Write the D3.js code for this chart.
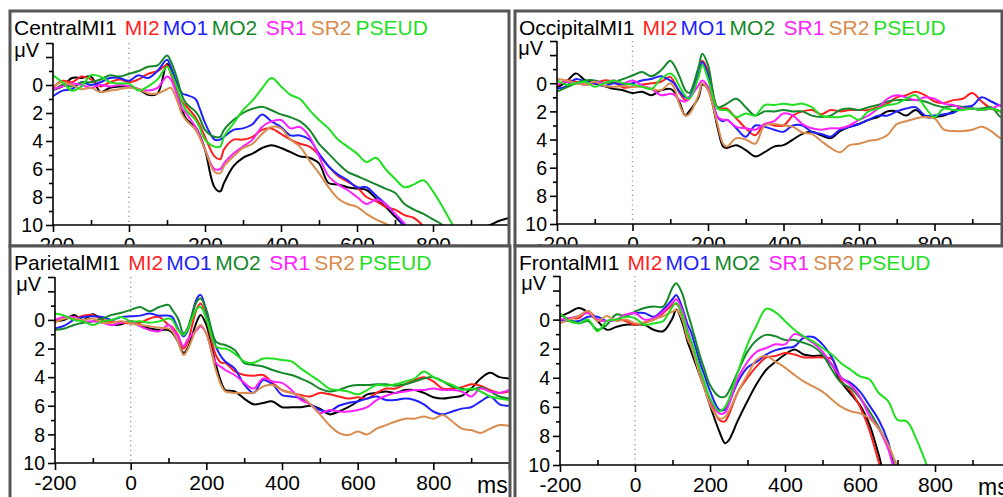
<!DOCTYPE html>
<html>
<head>
<meta charset="utf-8">
<script src="https://cdn.jsdelivr.net/npm/d3@7"></script>
<style>
  body { margin: 0; background: #fff; }
  svg { display: block; }
  text { font-family: "Liberation Sans", Arial, sans-serif; }
</style>
</head>
<body>
<div id="chart"></div>
<script>
// sample times (ms) shared by every trace
const times = [-200, -175, -150, -125, -100, -75, -50, -25, 0,
  25, 50, 75, 100, 110, 125, 140, 150, 175, 185, 200, 225, 240, 250,
  275, 300, 325, 350, 375, 400, 425, 450, 475, 500,
  525, 550, 575, 600, 625, 650, 675, 700, 725, 750,
  775, 800, 825, 850, 875, 900, 925, 950, 975, 1000];

const conditions = ["MI1", "MI2", "MO1", "MO2", "SR1", "SR2", "PSEUD"];
const colors = ["#000000", "#ff1f1f", "#1f1fff", "#15882a", "#ff1fff", "#d98c4f", "#1fe01f"];
const regions = ["Central", "Occipital", "Parietal", "Frontal"];
const xTicks = [-200, -100, 0, 100, 200, 300, 400, 500, 600, 700, 800, 900, 1000];
const yTicks = [-3, -2, -1, 0, 1, 2, 3, 4, 5, 6, 7, 8, 9, 10];

// Central (µV, positive drawn downwards; 12 = off the bottom)
const central_MI1 = [0.35, 0.1, -0.5, -0.5, -0.6, 0.5, 0.2, 0.1, 0.1,
  0.3, 0.7, 0.6, -1.5, -1.2, 0.4, 1.8, 2.4, 3.0, 3.5, 4.6, 7.3, 7.6, 7.0,
  5.8, 5.2, 4.9, 4.5, 4.3, 4.5, 4.8, 5.1, 5.2, 5.6,
  7.0, 7.1, 7.3, 7.4, 7.5, 8.1, 8.7, 9.4, 10.1, 11,
  12, 12, 12, 12, 12, 11.5, 10.3, 10.0, 9.7, 9.5];
const central_MI2 = [0.2, -0.3, -0.2, -0.6, -0.4, 0.1, -0.2, -0.4, -0.2,
  -0.4, -0.8, -1.0, -1.4, -0.8, 0.3, 1.2, 1.5, 2.3, 2.8, 3.7, 5.1, 5.3, 4.6,
  3.9, 3.9, 3.7, 3.2, 3.1, 3.5, 3.9, 4.2, 4.4, 5.0,
  5.8, 6.5, 6.9, 7.3, 8.0, 8.3, 8.7, 8.9, 9.3, 9.5,
  10.1, 11, 12, 12, 12, 12, 12, 12, 12, 12];
const central_MO1 = [0.8, 0.4, 0.3, -0.2, 0.0, -0.2, -0.5, -0.5, -0.3,
  -0.7, -0.5, -1.0, -1.8, -1.3, -0.2, 0.6, 0.7, 1.0, 1.6, 2.7, 3.9, 3.9, 3.7,
  3.2, 3.1, 2.8, 2.1, 2.6, 3.0, 3.6, 3.6, 3.9, 4.9,
  5.8, 6.4, 6.8, 7.3, 7.3, 7.9, 8.5, 9.2, 10.1, 11,
  12, 12, 12, 12, 12, 12, 12, 12, 12, 12];
const central_MO2 = [0.4, 0.0, 0.1, -0.2, -0.2, -0.4, -0.7, -0.6, -0.8,
  -1.0, -1.3, -1.4, -2.1, -1.7, -0.6, 0.8, 1.3, 1.9, 2.3, 3.2, 3.7, 3.7, 3.2,
  2.5, 2.0, 1.7, 1.55, 1.8, 2.1, 2.3, 2.6, 3.2, 4.2,
  4.9, 5.6, 6.2, 6.5, 6.8, 7.1, 7.4, 7.7, 8.5, 8.9,
  9.2, 9.6, 10.0, 11, 12, 12, 12, 12, 12, 12];
const central_SR1 = [0.3, 0.1, -0.1, 0.0, 0.2, 0.0, 0.1, 0.0, 0.1,
  0.3, 0.4, 0.2, -0.6, -0.4, 0.6, 1.7, 2.0, 3.0, 3.5, 4.6, 6.0, 6.0, 5.6,
  4.9, 4.4, 3.9, 3.0, 2.6, 2.5, 3.1, 3.0, 3.7, 5.1,
  6.5, 7.1, 7.5, 8.0, 8.5, 8.2, 8.5, 9.2, 9.9, 11,
  12, 12, 12, 12, 12, 12, 12, 12, 12, 12];
const central_SR2 = [0.1, -0.2, 0.0, 0.3, 0.2, 0.5, 0.4, 0.3, 0.2,
  0.3, 0.6, 0.6, 0.3, 0.2, 1.0, 2.1, 2.5, 3.2, 3.7, 4.6, 6.2, 6.3, 5.8,
  5.1, 4.5, 4.2, 3.5, 3.0, 3.1, 3.9, 4.4, 5.4, 6.3,
  7.3, 8.1, 8.5, 8.7, 9.2, 9.6, 9.9, 10.3, 11, 12,
  12, 12, 12, 12, 12, 12, 12, 12, 12, 12];
const central_PSEUD = [-0.7, -0.2, 0.4, 0.1, -0.7, -0.6, -0.2, -0.1, -0.1,
  0.4, 0.1, -0.4, -1.3, -0.9, 0.1, 1.3, 1.8, 2.5, 3.0, 3.9, 4.4, 4.4, 3.7,
  2.75, 1.8, 1.1, 0.25, -0.5, 0.1, 0.7, 1.0, 1.8, 2.5,
  3.1, 3.9, 4.4, 4.9, 5.5, 5.2, 6.0, 6.7, 7.3, 7.1,
  6.8, 7.6, 8.7, 9.9, 11, 12, 12, 12, 12, 12];

// Occipital
const occipital_MI1 = [0.3, -0.1, -0.7, -0.2, 0.0, 0.2, 0.4, 0.5, 0.7,
  0.6, 0.85, 0.5, 0.4, 0.6, 1.4, 2.3, 2.0, 1.0, 0.1, 0.4, 3.1, 4.5, 4.6,
  4.4, 4.75, 5.2, 4.9, 4.5, 4.4, 4.0, 3.6, 3.45, 3.7,
  3.9, 3.4, 3.1, 2.9, 2.6, 2.4, 2.0, 2.0, 2.3, 1.9,
  2.4, 2.4, 2.3, 2.0, 1.7, 1.8, 1.9, 1.8, 2.0, 2.2];
const occipital_MI2 = [0.2, -0.2, -0.1, 0.1, 0.0, -0.2, -0.1, 0.3, 0.25,
  0.1, 0.0, -0.1, -0.45, -0.1, 0.7, 1.2, 1.1, -0.5, -1.6, -0.9, 1.7, 1.8, 1.8,
  2.5, 3.2, 3.7, 2.9, 3.0, 3.0, 2.3, 2.0, 1.9, 2.2,
  1.9, 2.0, 1.9, 1.9, 1.9, 1.7, 1.45, 1.0, 0.85, 0.6,
  0.85, 1.3, 1.4, 1.2, 1.1, 0.7, 1.3, 1.8, 2.0, 2.1];
const occipital_MO1 = [0.4, 0.2, -0.3, -0.1, 0.0, 0.2, 0.0, 0.1, 0.0,
  -0.2, -0.3, -0.5, -0.2, 0.0, 0.6, 1.0, 1.0, -0.7, -1.5, -0.6, 2.4, 2.7, 2.6,
  3.2, 3.8, 3.0, 3.1, 3.3, 3.45, 3.0, 3.0, 3.45, 3.6,
  3.8, 3.3, 3.1, 2.9, 2.6, 2.3, 2.3, 2.0, 1.8, 1.7,
  2.3, 2.3, 2.2, 2.1, 1.7, 1.6, 1.0, 1.3, 1.6, 1.8];
const occipital_MO2 = [0.6, 0.3, 0.0, -0.2, -0.2, 0.0, -0.1, -0.3, -0.55,
  -0.8, -0.5, -0.9, -1.6, -1.3, -0.45, 0.5, 0.7, -1.15, -2.1, -1.3, 1.7, 1.6, 1.45,
  1.1, 1.7, 2.3, 2.0, 2.0, 1.9, 2.0, 2.0, 2.3, 2.4,
  2.3, 1.9, 1.8, 1.9, 1.7, 1.55, 1.3, 1.2, 1.2, 1.2,
  1.3, 1.55, 1.7, 1.6, 1.7, 1.8, 1.8, 1.7, 2.4, 2.6];
const occipital_SR1 = [0.1, -0.1, 0.0, 0.1, -0.1, 0.0, -0.2, 0.0, -0.2,
  0.15, 0.4, 0.85, 0.75, 0.8, 1.2, 1.3, 1.1, 0.15, -0.2, 0.25, 2.4, 2.6, 2.6,
  3.1, 3.2, 3.3, 2.9, 2.7, 2.15, 2.3, 2.9, 3.2, 3.3,
  3.2, 3.2, 3.0, 2.6, 2.3, 1.8, 1.1, 0.85, 1.0, 1.2,
  1.0, 1.1, 1.45, 1.55, 1.8, 1.8, 1.9, 1.8, 1.55, 1.6];
const occipital_SR2 = [-0.3, -0.2, 0.0, 0.1, -0.1, 0.2, 0.25, 0.2, 0.25,
  0.25, 0.4, 0.5, 0.0, 0.3, 1.55, 2.3, 2.2, 0.85, 0.0, 0.5, 2.9, 4.3, 4.5,
  3.9, 4.0, 4.3, 3.0, 2.9, 3.0, 3.1, 3.5, 3.6, 4.1,
  4.6, 4.9, 4.4, 4.3, 4.1, 4.0, 3.7, 2.9, 2.7, 2.5,
  2.4, 2.5, 3.3, 3.4, 3.4, 3.3, 3.1, 3.4, 3.9, 4.1];
const occipital_PSEUD = [-0.2, 0.1, 0.0, -0.1, 0.25, 0.0, -0.2, 0.0, 0.1,
  0.25, 0.4, -0.3, -0.7, -0.5, 0.25, 0.9, 1.1, -0.45, -1.3, -0.3, 1.8, 1.9, 1.9,
  2.4, 2.15, 2.3, 1.55, 1.55, 1.45, 1.55, 1.45, 1.7, 2.3,
  2.4, 2.4, 2.3, 2.6, 2.0, 1.8, 1.55, 1.45, 1.1, 0.85,
  1.7, 2.4, 1.8, 1.9, 1.9, 1.8, 1.9, 1.8, 2.0, 2.2];

// Parietal
const parietal_MI1 = [0.1, 0.0, -0.35, 0.0, -0.4, 0.0, 0.35, 0.3, 0.1,
  0.35, 0.6, 0.7, 0.7, 0.9, 1.5, 2.3, 2.0, 0.1, -0.35, 0.35, 3.1, 4.4, 4.9,
  5.0, 5.5, 5.9, 5.8, 5.7, 6.1, 6.1, 6.1, 6.0, 6.2,
  6.6, 6.4, 6.1, 5.7, 5.2, 5.1, 5.0, 5.1, 4.9, 4.9,
  5.1, 5.4, 5.5, 5.4, 5.3, 4.8, 4.1, 3.7, 4.0, 4.1];
const parietal_MI2 = [0.1, -0.2, -0.1, -0.3, -0.35, 0.0, 0.1, 0.2, 0.25,
  0.2, -0.1, -0.2, 0.35, 0.5, 1.05, 2.0, 1.6, -0.8, -1.15, -0.1, 2.45, 3.0, 3.0,
  3.6, 3.85, 3.9, 3.85, 4.4, 4.9, 5.1, 5.25, 5.35, 5.1,
  5.2, 5.35, 5.5, 5.4, 5.5, 5.1, 4.8, 4.8, 4.5, 4.2,
  4.0, 4.3, 4.8, 4.8, 4.7, 4.5, 4.6, 4.9, 5.1, 5.0];
const parietal_MO1 = [0.6, 0.4, 0.0, -0.2, -0.25, -0.2, 0.0, -0.2, -0.25,
  -0.3, -0.45, -0.3, -0.3, -0.2, 0.6, 1.15, 0.8, -1.5, -1.75, -0.6, 1.85, 2.6, 2.9,
  3.4, 4.5, 5.1, 4.2, 4.5, 5.25, 5.35, 5.5, 5.9, 6.3,
  6.4, 6.0, 5.8, 5.7, 5.5, 5.35, 5.6, 5.6, 5.5, 5.6,
  5.9, 6.4, 6.6, 6.4, 6.2, 6.1, 5.7, 5.35, 5.9, 6.0];
const parietal_MO2 = [0.7, 0.6, 0.35, 0.2, 0.1, -0.1, -0.35, -0.5, -0.7,
  -0.9, -0.6, -0.9, -1.05, -0.7, -0.1, 0.95, 0.6, -1.3, -1.5, -0.7, 1.5, 1.7, 1.75,
  2.1, 3.0, 3.15, 3.25, 3.5, 3.7, 3.85, 4.1, 4.4, 4.8,
  5.0, 4.9, 4.65, 4.55, 4.55, 4.5, 4.5, 4.6, 4.5, 4.3,
  4.1, 4.0, 4.3, 4.65, 4.8, 4.9, 4.7, 5.0, 5.35, 5.5];
const parietal_SR1 = [0.0, -0.2, -0.2, 0.1, 0.1, 0.2, 0.35, 0.2, 0.1,
  0.45, 0.7, 0.8, 0.35, 0.6, 1.15, 1.85, 1.4, 0.7, 0.45, 0.95, 3.0, 3.3, 3.5,
  3.85, 4.4, 4.8, 4.1, 4.3, 4.4, 4.9, 5.6, 5.9, 6.5,
  6.3, 6.4, 6.4, 6.3, 6.1, 5.6, 5.3, 5.1, 5.0, 4.9,
  4.9, 4.8, 4.9, 4.9, 5.0, 5.35, 4.8, 5.0, 5.1, 4.9];
const parietal_SR2 = [0.2, -0.1, -0.1, 0.0, -0.1, 0.2, 0.2, 0.1, 0.25,
  0.35, 0.45, 0.55, 0.6, 0.8, 1.5, 2.45, 2.1, 0.6, 0.35, 0.95, 3.5, 4.6, 5.0,
  5.1, 5.1, 5.1, 4.65, 4.55, 4.9, 5.1, 5.35, 5.9, 6.6,
  7.35, 7.9, 8.05, 7.8, 8.0, 7.6, 7.35, 7.1, 6.9, 6.9,
  6.75, 6.9, 6.65, 7.1, 7.6, 7.7, 7.9, 7.6, 7.35, 7.4];
const parietal_PSEUD = [-0.45, -0.3, 0.0, 0.1, 0.35, 0.1, 0.0, -0.2, 0.1,
  0.1, 0.2, 0.1, -0.1, 0.0, 0.7, 1.05, 0.7, -0.8, -0.9, -0.1, 1.85, 2.0, 2.0,
  2.35, 2.9, 3.0, 2.7, 2.7, 2.8, 2.9, 3.4, 3.85, 4.3,
  4.8, 4.9, 5.0, 5.2, 4.9, 4.55, 4.6, 4.5, 4.3, 4.1,
  3.6, 4.0, 4.3, 4.55, 4.9, 4.8, 5.0, 5.35, 5.5, 5.6];

// Frontal
const frontal_MI1 = [-0.2, -0.5, -0.8, -0.5, 0.1, 0.7, 0.5, 0.35, 0.35,
  0.35, 0.7, 0.8, -0.1, -0.7, 0.1, 1.5, 2.2, 4.0, 4.7, 5.9, 7.7, 8.5, 8.3,
  6.9, 5.6, 4.4, 3.45, 2.9, 2.4, 2.05, 2.4, 2.5, 2.5,
  3.1, 4.3, 5.1, 5.9, 7.2, 9.3, 11.5, 12, 12, 12,
  12, 12, 12, 12, 12, 12, 12, 12, 12, 12];
const frontal_MI2 = [0.1, -0.1, -0.1, -0.6, 0.0, 0.1, 0.0, 0.1, 0.35,
  0.2, 0.0, -0.45, -1.0, -1.1, -0.35, 1.0, 1.7, 3.8, 4.5, 5.6, 6.9, 7.0, 6.55,
  4.95, 4.0, 3.2, 2.6, 2.5, 2.3, 2.4, 2.6, 2.6, 2.6,
  2.7, 4.2, 4.9, 6.0, 7.6, 9.8, 12, 12, 12, 12,
  12, 12, 12, 12, 12, 12, 12, 12, 12, 12];
const frontal_MO1 = [0.0, 0.1, 0.1, -0.2, -0.2, 0.1, 0.0, -0.3, -0.45,
  -0.45, -0.2, -0.7, -1.4, -1.7, -0.9, 0.3, 0.9, 3.1, 3.8, 4.9, 6.2, 6.2, 5.75,
  4.25, 3.3, 2.9, 2.4, 2.1, 1.95, 1.85, 1.25, 1.2, 1.7,
  2.6, 4.0, 4.35, 4.95, 5.9, 6.9, 8.4, 11, 12, 12,
  12, 12, 12, 12, 12, 12, 12, 12, 12, 12];
const frontal_MO2 = [-0.35, 0.0, 0.25, 0.1, 0.7, 0.35, -0.35, -0.25, -0.55,
  -0.8, -0.9, -0.9, -2.2, -2.5, -1.85, -0.5, 0.35, 2.65, 3.4, 4.5, 5.3, 5.3, 4.95,
  3.55, 2.2, 1.4, 1.05, 1.15, 1.4, 1.4, 1.6, 1.85, 2.4,
  3.45, 4.35, 4.7, 5.4, 6.3, 7.4, 8.7, 10.2, 12, 12,
  12, 12, 12, 12, 12, 12, 12, 12, 12, 12];
const frontal_SR1 = [0.0, -0.1, -0.25, -0.45, 0.0, 0.1, 0.0, -0.35, -0.45,
  0.0, -0.1, -0.55, -1.15, -1.4, -0.7, 0.7, 1.5, 3.7, 4.4, 5.5, 6.45, 6.4, 5.85,
  4.0, 2.9, 2.2, 1.95, 1.7, 1.7, 1.0, 1.2, 1.6, 2.2,
  3.1, 4.0, 4.5, 5.3, 6.6, 7.5, 8.9, 11, 12, 12,
  12, 12, 12, 12, 12, 12, 12, 12, 12, 12];
const frontal_SR2 = [0.25, 0.0, -0.25, -0.6, 0.1, -0.25, 0.1, 0.0, 0.25,
  0.25, 0.0, -0.25, -0.55, -0.65, -0.1, 1.3, 1.85, 4.0, 4.7, 5.85, 6.8, 6.7, 6.3,
  4.95, 3.8, 2.75, 2.5, 2.9, 3.3, 3.8, 4.25, 4.6, 4.95,
  5.5, 6.0, 6.3, 6.45, 6.8, 7.5, 8.6, 10.2, 12, 12,
  12, 12, 12, 12, 12, 12, 12, 12, 12, 12];
const frontal_PSEUD = [-0.45, 0.1, 0.25, 0.0, 0.8, 0.1, 0.0, -0.2, -0.1,
  0.35, 0.25, 0.1, -0.9, -1.15, -0.45, 0.9, 1.5, 3.55, 4.3, 5.4, 6.3, 6.0, 5.5,
  3.55, 1.7, 0.35, -0.75, -0.5, 0.1, 0.7, 1.15, 1.5, 1.95,
  2.4, 3.0, 3.45, 3.9, 4.1, 5.05, 5.6, 6.9, 7.0, 8.2,
  9.8, 11.5, 12, 12, 12, 12, 12, 12, 12, 12];

const seriesByRegion = [
  [central_MI1, central_MI2, central_MO1, central_MO2, central_SR1, central_SR2, central_PSEUD],
  [occipital_MI1, occipital_MI2, occipital_MO1, occipital_MO2, occipital_SR1, occipital_SR2, occipital_PSEUD],
  [parietal_MI1, parietal_MI2, parietal_MO1, parietal_MO2, parietal_SR1, parietal_SR2, parietal_PSEUD],
  [frontal_MI1, frontal_MI2, frontal_MO1, frontal_MO2, frontal_SR1, frontal_SR2, frontal_PSEUD]
];

// panel frames and plot boxes (pixels)
const layout = [
  { fx: 10, fy: 11, fw: 499, fh: 235, left: 53, top: 43, width: 456, height: 182, ms: false },
  { fx: 515, fy: 11, fw: 487, fh: 235, left: 557, top: 41, width: 453, height: 183, ms: false },
  { fx: 10, fy: 246, fw: 500, fh: 260, left: 55, top: 277, width: 454, height: 186, ms: true },
  { fx: 515, fy: 246, fw: 500, fh: 260, left: 560, top: 276, width: 450, height: 189, ms: true }
];
// extra gap (px) before each condition name in the titles
const titleGaps = [0, 8, 3, 3.5, 8.5, 4, 4];

const svg = d3.select("#chart").append("svg")
    .attr("width", 1003)
    .attr("height", 497);

const defs = svg.append("defs");

regions.forEach((region, i) => {
    const L = layout[i];

    defs.append("clipPath").attr("id", "frame" + i)
        .append("rect")
        .attr("x", L.fx).attr("y", L.fy)
        .attr("width", L.fw).attr("height", L.fh);
    defs.append("clipPath").attr("id", "plot" + i)
        .append("rect")
        .attr("x", L.left).attr("y", L.top)
        .attr("width", L.width).attr("height", L.height);

    const panel = svg.append("g");

    panel.append("rect")
        .attr("x", L.fx).attr("y", L.fy)
        .attr("width", L.fw).attr("height", L.fh)
        .attr("fill", "#fff");

    const g = panel.append("g").attr("clip-path", `url(#frame${i})`);

    const x = d3.scaleLinear().domain([-200, 1000]).range([L.left, L.left + L.width]);
    const y = d3.scaleLinear().domain([-3, 10]).range([L.top, L.top + L.height]);

    // stimulus onset
    g.append("line")
        .attr("x1", x(0)).attr("x2", x(0))
        .attr("y1", y(-3)).attr("y2", y(10))
        .attr("stroke", "#999")
        .attr("stroke-width", 1.3)
        .attr("stroke-dasharray", "1.3,3.5");

    // traces
    const line = d3.line()
        .x((d, k) => x(times[k]))
        .y(d => y(d))
        .curve(d3.curveCatmullRom.alpha(0.5));

    g.append("g").attr("clip-path", `url(#plot${i})`)
        .selectAll("path")
        .data(seriesByRegion[i])
        .enter()
        .append("path")
        .attr("d", d => line(d))
        .attr("fill", "none")
        .attr("stroke", (d, k) => colors[k])
        .attr("stroke-width", 2)
        .attr("stroke-linejoin", "round");

    // y axis
    const yAxis = g.append("g")
        .attr("transform", `translate(${L.left},0)`)
        .call(d3.axisLeft(y).tickValues(yTicks).tickSize(5)
            .tickFormat(v => (v >= 0 && v % 2 === 0) ? v : ""));
    yAxis.select(".domain").attr("stroke", "#000").attr("stroke-width", 1.6)
        .attr("d", `M0,${y(-3)}V${y(10)}`);
    yAxis.selectAll(".tick line")
        .attr("stroke", "#000").attr("stroke-width", 1.6)
        .attr("x2", v => (v % 2 === 0 || v === -3) ? -7 : -4);
    yAxis.selectAll(".tick text")
        .attr("x", -10)
        .attr("dy", "0.35em")
        .attr("fill", "#000")
        .style("font-size", "19.5px")
        .style("font-family", "'Liberation Sans', Arial, sans-serif");

    g.append("text")
        .attr("x", L.left - 14)
        .attr("y", y(-2.5))
        .attr("dy", "0.35em")
        .attr("text-anchor", "end")
        .style("font-size", "20px")
        .text("\u03bcV");

    // x axis
    const xAxis = g.append("g")
        .attr("transform", `translate(0,${y(10)})`)
        .call(d3.axisBottom(x).tickValues(xTicks).tickSize(6)
            .tickFormat(v => (v % 200 === 0 && v < 1000) ? v : ""));
    xAxis.select(".domain").attr("stroke", "#000").attr("stroke-width", 1.6)
        .attr("d", `M${L.left},0H${L.left + L.width}`);
    xAxis.selectAll(".tick line")
        .attr("stroke", "#000").attr("stroke-width", 1.6)
        .attr("y2", v => v % 200 === 0 ? 7 : -5);
    xAxis.selectAll(".tick text")
        .attr("y", 12)
        .attr("dy", "0.71em")
        .attr("fill", "#000")
        .style("font-size", "21px")
        .style("font-family", "'Liberation Sans', Arial, sans-serif");

    if (L.ms) {
        g.append("text")
            .attr("x", L.left + L.width - 32)
            .attr("y", y(10) + 30)
            .style("font-size", "23px")
            .text("ms");
    }

    // title: region name followed by the coloured condition names
    const title = g.append("text")
        .attr("x", L.fx + 4)
        .attr("y", L.fy + 24)
        .style("font-size", "21px");
    title.append("tspan").attr("fill", "#000").text(region);
    conditions.forEach((c, k) => {
        title.append("tspan")
            .attr("dx", titleGaps[k])
            .attr("fill", colors[k])
            .text(c);
    });

    // frame
    panel.append("rect")
        .attr("x", L.fx).attr("y", L.fy)
        .attr("width", L.fw).attr("height", L.fh)
        .attr("fill", "none")
        .attr("stroke", "#555")
        .attr("stroke-width", 3);
});
</script>
</body>
</html>
